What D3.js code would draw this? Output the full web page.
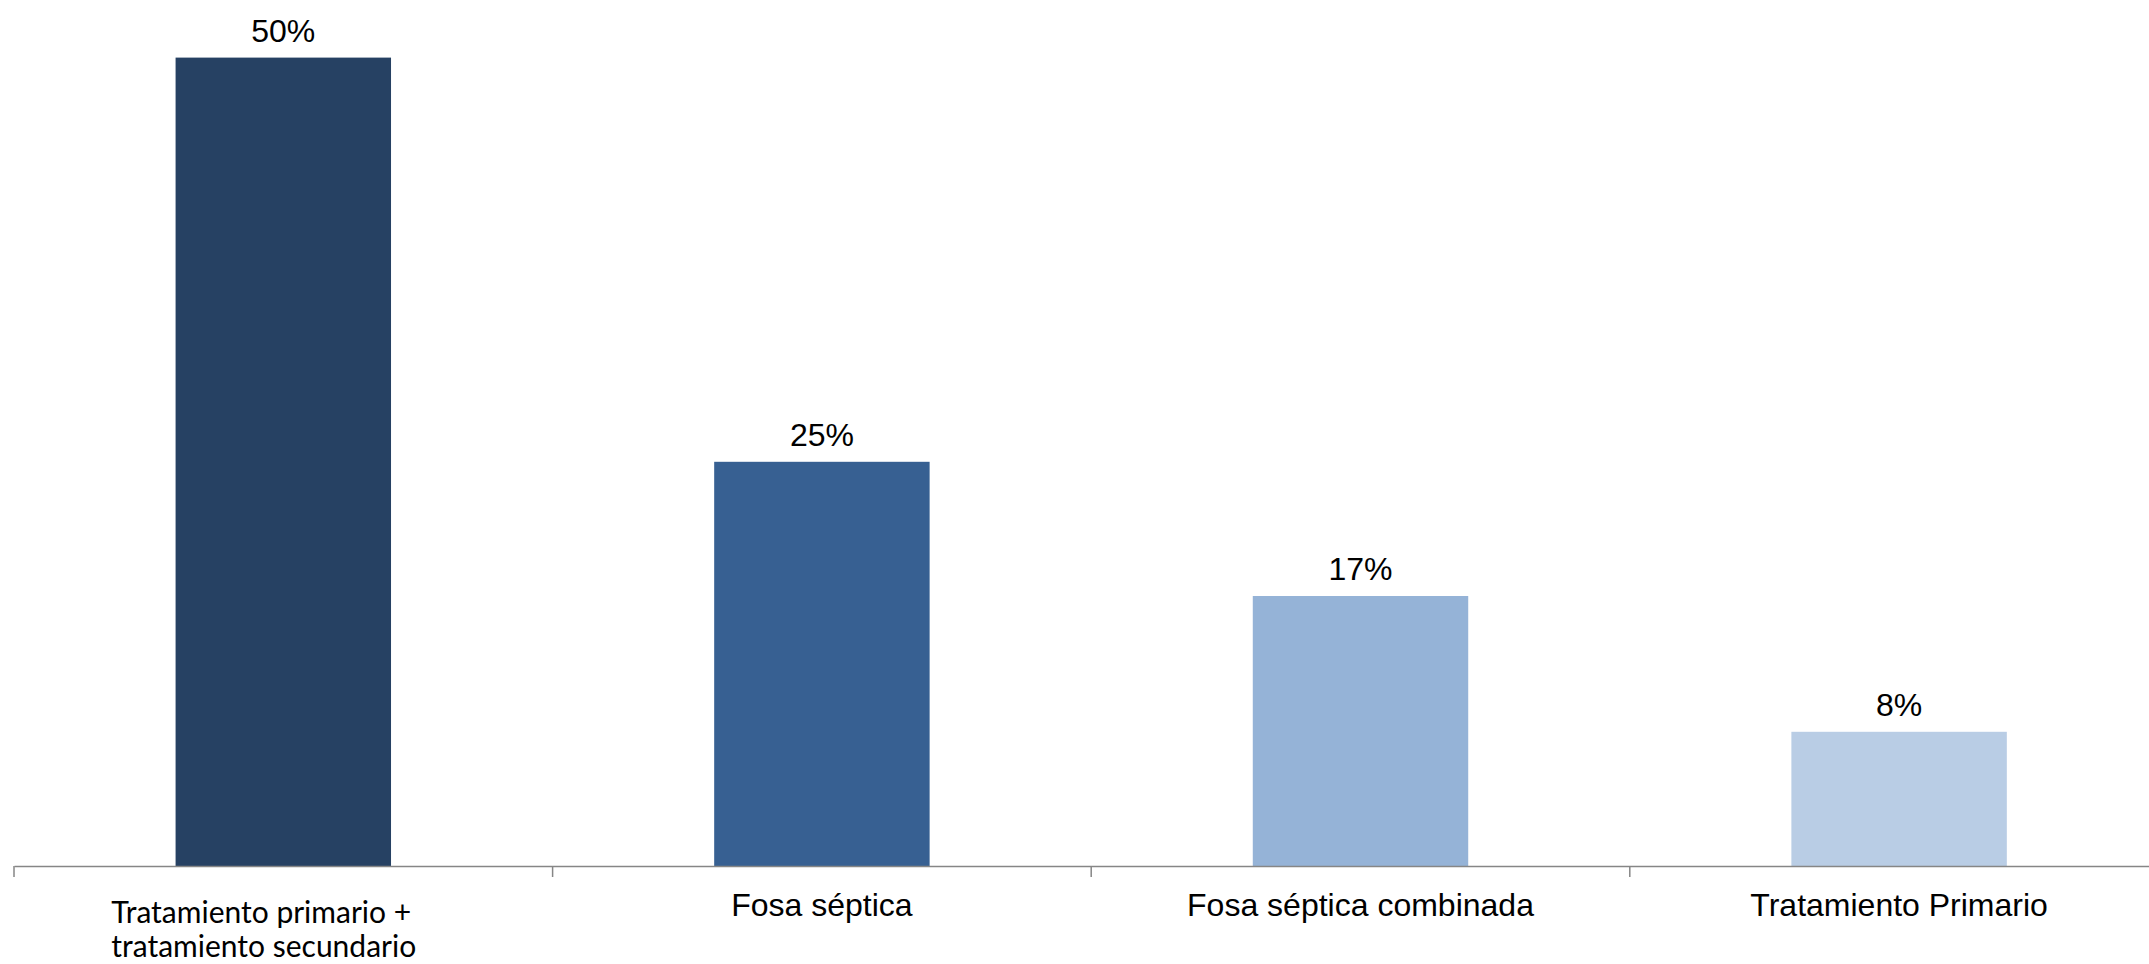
<!DOCTYPE html>
<html>
<head>
<meta charset="utf-8">
<script src="https://cdn.jsdelivr.net/npm/d3@7"></script>
<style>
  html, body { margin: 0; padding: 0; background: #fff; }
  svg { display: block; }
</style>
</head>
<body>
<svg id="chart" width="2149" height="964"></svg>
<script>
const categories = [
  ["Tratamiento primario +", "tratamiento secundario"],
  ["Fosa séptica"],
  ["Fosa séptica combinada"],
  ["Tratamiento Primario"]
];
const values = [50, 25, 16.7, 8.3];
const valueLabels = ["50%", "25%", "17%", "8%"];
const colors = ["#264163", "#376092", "#95b3d7", "#b9cde5"];

const svg = d3.select("#chart");
const axisY = 866;
const left = 14;
const step = 538.6;
const ids = categories.map((d, i) => i);

const x = d3.scaleBand().domain(ids).range([left, left + step * ids.length]).padding(0);
const y = d3.scaleLinear().domain([0, 50]).range([axisY, 57.6]);
const barW = x.bandwidth() * 0.4;

// bars
svg.selectAll("rect.bar").data(values).enter().append("rect")
  .attr("class", "bar")
  .attr("x", (d, i) => x(i) + (x.bandwidth() - barW) / 2)
  .attr("y", d => y(d))
  .attr("width", barW)
  .attr("height", d => y(0) - y(d))
  .attr("fill", (d, i) => colors[i]);

// value labels
svg.selectAll("text.val").data(values).enter().append("text")
  .attr("class", "val")
  .attr("x", (d, i) => x(i) + x.bandwidth() / 2)
  .attr("y", d => y(d) - 16)
  .attr("text-anchor", "middle")
  .attr("font-family", "Liberation Sans, Arial, sans-serif")
  .attr("font-size", 32)
  .attr("fill", "#000")
  .text((d, i) => valueLabels[i]);

// axis
const axis = d3.axisBottom(x).tickSize(0).tickFormat("");
const g = svg.append("g").attr("transform", `translate(0,${axisY})`).call(axis);
g.select(".domain").attr("stroke", "#868686").attr("stroke-width", 1.5);
// boundary ticks
const bounds = ids.map(i => x(i)).concat([x(ids.length - 1) + x.bandwidth()]);
g.selectAll("line.bt").data(bounds).enter().append("line")
  .attr("class", "bt")
  .attr("x1", d => d).attr("x2", d => d)
  .attr("y1", 0).attr("y2", 11)
  .attr("stroke", "#868686").attr("stroke-width", 1.5);

// category labels
ids.forEach(i => {
  const lines = categories[i];
  const cx = x(i) + x.bandwidth() / 2;
  if (lines.length > 1) {
    const t = svg.append("text")
      .attr("font-family", "Lato, Carlito, Calibri, sans-serif")
      .attr("font-size", 30)
      .attr("fill", "#000")
      .attr("text-anchor", "start");
    lines.forEach((ln, k) => {
      t.append("tspan").attr("x", cx - 172).attr("y", 923 + k * 34).text(ln);
    });
  } else {
    svg.append("text")
      .attr("x", cx)
      .attr("y", 916)
      .attr("text-anchor", "middle")
      .attr("font-family", "Liberation Sans, Arial, sans-serif")
      .attr("font-size", 32)
      .attr("fill", "#000")
      .text(lines[0]);
  }
});
</script>
</body>
</html>
